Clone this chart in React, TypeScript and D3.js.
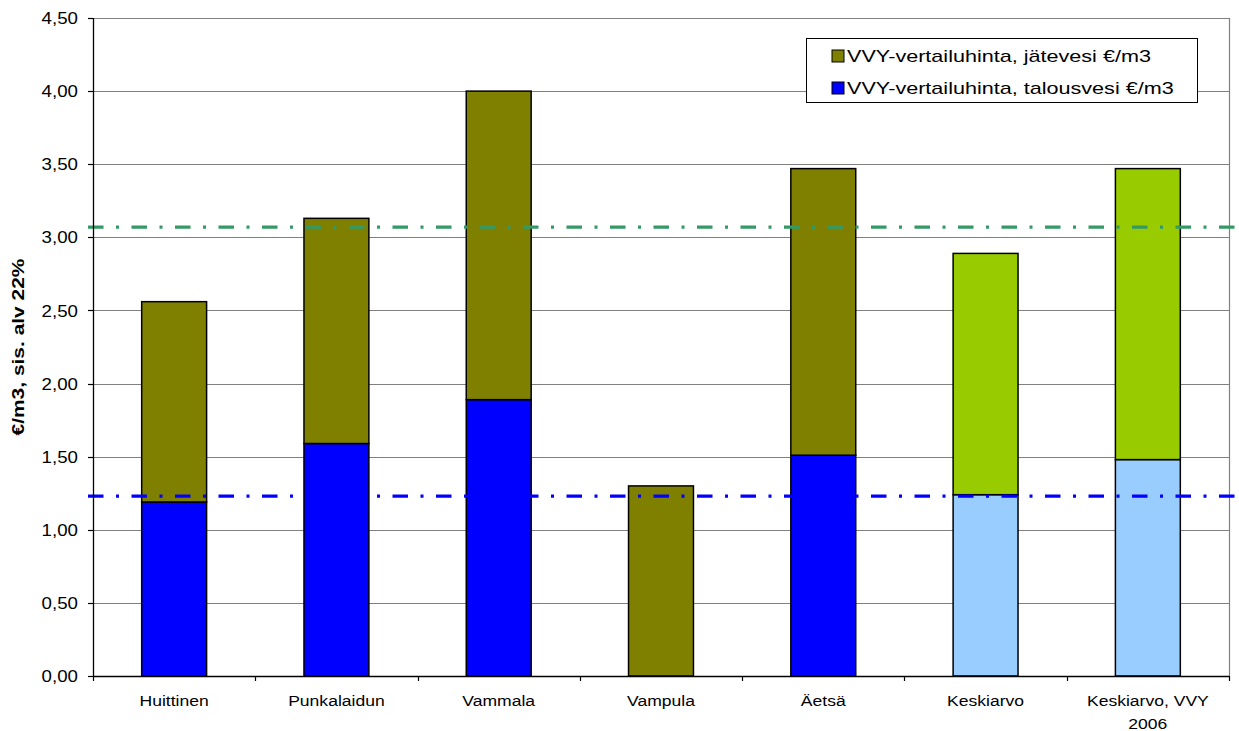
import React from "react";
import * as d3 from "d3";

// Water price comparison by municipality (€/m3, incl. VAT 22 %)
const categories = ["Huittinen", "Punkalaidun", "Vammala", "Vampula", "Äetsä", "Keskiarvo", "Keskiarvo, VVY 2006"];
const talousvesi = [1.19, 1.59, 1.89, 0, 1.51, 1.24, 1.48];
const jatevesi = [1.37, 1.54, 2.11, 1.30, 1.96, 1.65, 1.99];
const yTicks = [0, 0.5, 1, 1.5, 2, 2.5, 3, 3.5, 4, 4.5];
const refTotal = 3.07;
const refWater = 1.23;
const legendLabels = ["VVY-vertailuhinta, jätevesi €/m3", "VVY-vertailuhinta, talousvesi €/m3"];

const W = 1239;
const H = 731;
const M = { left: 93, right: 1229, top: 18, bottom: 676 };
const FONT = "'Liberation Sans', Arial, sans-serif";

const fmt = (v: number) => v.toFixed(2).replace(".", ",");

export default function App() {
  const x = d3.scaleBand<string>().domain(categories).range([M.left, M.right]).paddingInner(0).paddingOuter(0);
  const y = d3.scaleLinear().domain([0, 4.5]).range([M.bottom, M.top]);
  const bw = x.bandwidth() * 0.4;
  const isAvg = (i: number) => i >= 5;
  const colWater = (i: number) => (isAvg(i) ? "#99CCFF" : "#0000FF");
  const colWaste = (i: number) => (isAvg(i) ? "#99CC00" : "#808000");
  const dash = "15.5 12.5 3 12.5";

  return (
    <svg width={W} height={H} style={{ position: "absolute", left: 0, top: 0, background: "#fff" }}>
      {/* gridlines */}
      {yTicks.map((t) => (
        <line key={"g" + t} x1={M.left} x2={M.right} y1={Math.round(y(t)) + 0.5} y2={Math.round(y(t)) + 0.5} stroke="#808080" strokeWidth={1.2} />
      ))}
      <line x1={M.right + 0.5} x2={M.right + 0.5} y1={M.top} y2={M.bottom} stroke="#808080" strokeWidth={1.2} />

      {/* stacked bars */}
      {categories.map((c, i) => {
        const x0 = (x(c) as number) + (x.bandwidth() - bw) / 2;
        const w0 = talousvesi[i];
        const w1 = w0 + jatevesi[i];
        return (
          <g key={c}>
            {w0 > 0 && (
              <rect x={x0} y={y(w0)} width={bw} height={y(0) - y(w0)} fill={colWater(i)} stroke="#000" strokeWidth={1.5} />
            )}
            <rect x={x0} y={y(w1)} width={bw} height={y(w0) - y(w1)} fill={colWaste(i)} stroke="#000" strokeWidth={1.5} />
          </g>
        );
      })}

      {/* reference lines */}
      <line x1={88} x2={W} y1={y(refTotal)} y2={y(refTotal)} stroke="#339966" strokeWidth={3.2} strokeDasharray={dash} />
      <line x1={88} x2={W} y1={y(refWater)} y2={y(refWater)} stroke="#0000FF" strokeWidth={3.2} strokeDasharray={dash} />

      {/* axes */}
      <line x1={M.left + 0.5} x2={M.left + 0.5} y1={M.top} y2={M.bottom} stroke="#000" strokeWidth={1.3} />
      <line x1={M.left} x2={M.right} y1={M.bottom + 0.5} y2={M.bottom + 0.5} stroke="#000" strokeWidth={1.3} />
      {yTicks.map((t) => (
        <g key={"t" + t}>
          <line x1={M.left - 5} x2={M.left} y1={Math.round(y(t)) + 0.5} y2={Math.round(y(t)) + 0.5} stroke="#000" strokeWidth={1.2} />
          <text transform={`translate(78,${y(t)}) scale(1.1,1)`} dy="0.36em" textAnchor="end" fontFamily={FONT} fontSize={17} fill="#000">
            {fmt(t)}
          </text>
        </g>
      ))}
      {d3.range(categories.length + 1).map((k) => {
        const xx = Math.round(M.left + k * x.bandwidth()) + 0.5;
        return <line key={"xt" + k} x1={xx} x2={xx} y1={M.bottom} y2={M.bottom + 5} stroke="#000" strokeWidth={1.2} />;
      })}
      {categories.map((c) => {
        const cx = (x(c) as number) + x.bandwidth() / 2;
        const lines = c === "Keskiarvo, VVY 2006" ? ["Keskiarvo, VVY", "2006"] : [c];
        return (
          <text key={"l" + c} transform={`translate(${cx},706) scale(1.17,1)`} textAnchor="middle" fontFamily={FONT} fontSize={15} fill="#000">
            {lines.map((l, j) => (
              <tspan key={j} x={0} dy={j === 0 ? 0 : 23}>
                {l}
              </tspan>
            ))}
          </text>
        );
      })}

      {/* y-axis title */}
      <text transform={`translate(24,${(M.top + M.bottom) / 2}) rotate(-90) scale(1.27,1)`} textAnchor="middle" fontFamily={FONT} fontSize={16.5} fontWeight="bold" fill="#000">
        €/m3, sis. alv 22%
      </text>

      {/* legend */}
      <rect x={806.5} y={38.5} width={391} height={64} fill="#fff" stroke="#000" strokeWidth={1} />
      {legendLabels.map((l, i) => (
        <g key={l}>
          <rect x={832} y={50 + i * 32} width={12} height={12} fill={i === 0 ? "#808000" : "#0000FF"} stroke="#000" strokeWidth={1} />
          <text transform={`translate(847,${56 + i * 32}) scale(1.27,1)`} dy="0.36em" fontFamily={FONT} fontSize={17} fill="#000">
            {l}
          </text>
        </g>
      ))}
    </svg>
  );
}
